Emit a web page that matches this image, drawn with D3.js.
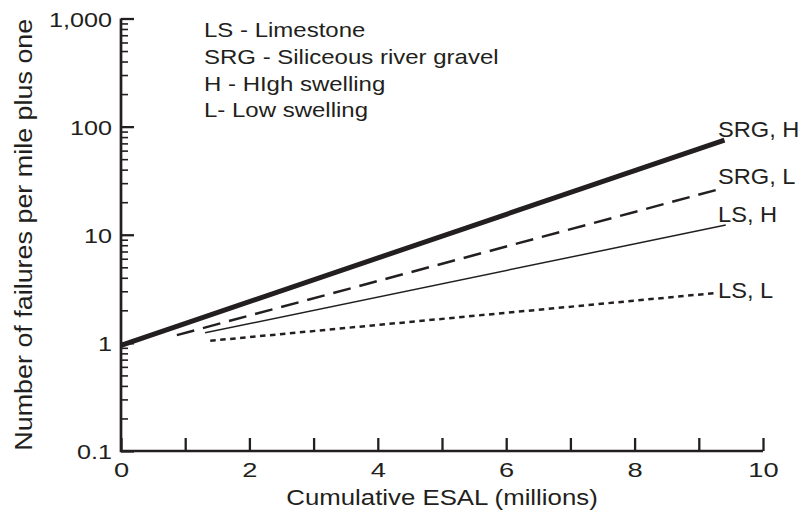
<!DOCTYPE html>
<html><head><meta charset="utf-8">
<script src="https://cdn.jsdelivr.net/npm/d3@7"></script>
<style>html,body{margin:0;padding:0;background:#fff}svg{display:block}text{font-family:"Liberation Sans",Arial,Helvetica,sans-serif;fill:#231f20}</style>
</head><body><svg id="c" width="804" height="512"></svg>
<script>
// ---- data ----
const seriesNames = ["SRG, H", "SRG, L", "LS, H", "LS, L"];
const seriesX = [[0, 9.4], [0.87, 9.38], [1.31, 9.42], [1.39, 9.28]];
const seriesY = [[0.95, 75], [1.18, 27], [1.24, 12.3], [1.045, 2.9]];
const legendLines = ["LS - Limestone", "SRG - Siliceous river gravel", "H - HIgh swelling", "L- Low swelling"];
const xTicks = [0, 1, 2, 3, 4, 5, 6, 7, 8, 9, 10];
const xTickLabels = [0, 2, 4, 6, 8, 10];
const yMajor = [0.1, 1, 10, 100, 1000];
const yMajorLabels = ["0.1", "1", "10", "100", "1,000"];
const xTitle = "Cumulative ESAL (millions)";
const yTitle = "Number of failures per mile plus one";

// ---- layout ----
const W = 804, H = 512;
const m = {left: 121, right: 41, top: 18.5, bottom: 61};
const ink = "#231f20";
const SX = 1.2;   // glyphs in the reference are wider than Liberation Sans
const SXT = 1.3;  // x tick labels
const svg = d3.select("#c");
const x = d3.scaleLinear().domain([0, 10]).range([m.left, W - m.right]);
const y = d3.scaleLog().domain([0.1, 1000]).range([H - m.bottom, m.top]);

const styles = [
  {w: 5, dash: null},
  {w: 2.5, dash: "18,9"},
  {w: 1.5, dash: null},
  {w: 2.5, dash: "5.5,4.5"}
];

function wideText(g, tx, ty, size, str, sx, anchor, rot) {
  return g.append("text")
    .attr("transform", `translate(${tx},${ty})${rot ? ` rotate(${rot})` : ""} scale(${sx},1)`)
    .attr("font-size", size).attr("text-anchor", anchor || "start").text(str);
}

// minor ticks
const yMinor = [];
yMajor.slice(0, -1).forEach(d => { for (let k = 2; k <= 9; k++) yMinor.push(d * k); });

const gy = svg.append("g").attr("transform", `translate(${m.left},0)`);
gy.call(d3.axisRight(y).tickValues(yMinor).tickSize(7).tickFormat(""));
gy.select(".domain").remove();
gy.selectAll("line").attr("stroke", ink).attr("stroke-width", 1.6);

const gyM = svg.append("g").attr("transform", `translate(${m.left},0)`);
gyM.call(d3.axisRight(y).tickValues(yMajor).tickSize(13).tickFormat(""));
gyM.select(".domain").remove();
gyM.selectAll("line").attr("stroke", ink).attr("stroke-width", 2.3);

// y labels
const gyl = svg.append("g").attr("transform", `translate(${m.left},0)`);
gyl.call(d3.axisLeft(y).tickValues(yMajor).tickSize(0).tickPadding(9).tickFormat((d, i) => yMajorLabels[i]));
gyl.select(".domain").remove();
gyl.selectAll("text").attr("font-size", 21).attr("font-family", null).attr("fill", ink)
  .attr("x", -9 / SX).attr("dy", "0.36em").attr("transform", `scale(${SX},1)`);

// x axis
const gx = svg.append("g").attr("transform", `translate(0,${H - m.bottom})`);
gx.call(d3.axisTop(x).tickValues(xTicks).tickSize(13).tickFormat(""));
gx.select(".domain").remove();
gx.selectAll("line").attr("stroke", ink).attr("stroke-width", 2.3);
const gxl = svg.append("g").attr("transform", `translate(0,${H - m.bottom})`);
gxl.call(d3.axisBottom(x).tickValues(xTickLabels).tickSize(0).tickPadding(0).tickFormat(d3.format("d")));
gxl.select(".domain").remove();
gxl.selectAll("text").attr("font-size", 21).attr("font-family", null).attr("fill", ink)
  .attr("y", 26).attr("dy", null).attr("transform", `scale(${SXT},1)`);

// axis lines
svg.append("path")
  .attr("d", `M${m.left},${y(1000)}V${H - m.bottom}H${x(10)}`)
  .attr("fill", "none").attr("stroke", ink).attr("stroke-width", 2.7).attr("stroke-linejoin", "miter");

// series
const line = d3.line().x(d => x(d[0])).y(d => y(d[1]));
seriesNames.forEach((n, i) => {
  const pts = seriesX[i].map((v, j) => [v, seriesY[i][j]]);
  svg.append("path").attr("d", line(pts)).attr("fill", "none").attr("stroke", ink)
    .attr("stroke-width", styles[i].w).attr("stroke-dasharray", styles[i].dash);
});

// series labels
const labelBase = [137, 184, 222, 298];
seriesNames.forEach((n, i) => wideText(svg, 718, labelBase[i], 21.5, n, 1.1));

// legend text
legendLines.forEach((t, i) => wideText(svg, 204, 37.3 + i * 26.7, 20, t, SX));

// titles
wideText(svg, (m.left + W - m.right) / 2, 505, 21.5, xTitle, SX, "middle");
wideText(svg, 32, (m.top + H - m.bottom) / 2, 23, yTitle, 1.17, "middle", -90);
</script></body></html>
